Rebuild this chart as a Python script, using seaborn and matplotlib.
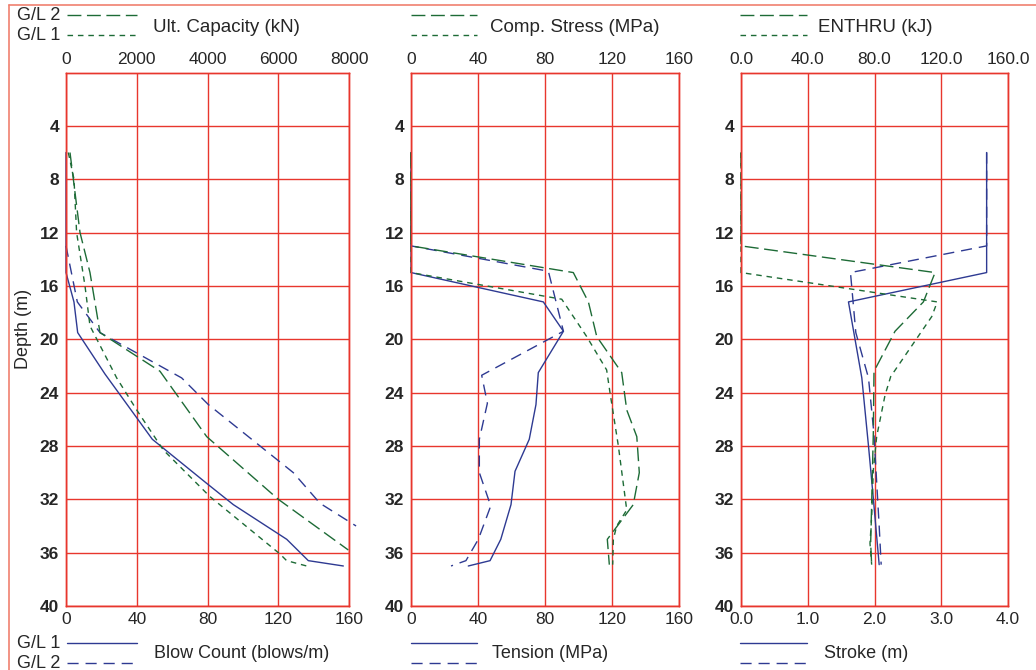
import numpy as np
import pandas as pd
import matplotlib.pyplot as plt
import seaborn as sns
from matplotlib.lines import Line2D

sns.set_style('white')
plt.rcParams['font.family'] = ['Liberation Sans', 'DejaVu Sans']
plt.rcParams['font.size'] = 12.5

# ---------------- data (depth in m) ----------------
# panel 1: blow count (bottom axis) and ult. capacity (top axis)
blow1_depth = [6, 15, 17.2, 19.5, 22.6, 27.5, 30.8, 32.4, 35.0, 36.6, 37.0]
blow1_val = [0, 0, 4.5, 6.6, 22, 48.8, 79.5, 94.6, 124.8, 137, 156.8]
blow2_depth = [13, 17.2, 19.5, 22.9, 24.9, 30.0, 32.3, 34.0]
blow2_val = [0, 6.4, 19.2, 65.4, 80.5, 128.5, 143.6, 164]
cap2_depth = [6, 12, 15, 19.5, 22.4, 27.3, 32.0, 35.8]
cap2_val = [113, 396, 678, 961, 2657, 3977, 6001, 7980]
cap1_depth = [6, 8, 12, 16, 19, 22.9, 25.3, 28.3, 31.8, 36.1, 36.6, 37.0]
cap1_val = [65, 226, 300, 537, 678, 1433, 1998, 2750, 4070, 6049, 6237, 6803]

# panel 2: tension (bottom axis) and comp. stress (top axis)
ten1_depth = [6, 15, 17.2, 19.4, 22.5, 24.9, 27.5, 29.9, 32.4, 35.0, 36.6, 37.0]
ten1_val = [0, 0, 79.0, 91.0, 76.0, 74.6, 70.6, 62.1, 59.7, 53.6, 47.2, 34.2]
ten2_depth = [6, 13, 14.9, 19.4, 22.7, 24.8, 27.5, 30.0, 32.5, 35.0, 36.6, 37.0]
ten2_val = [0, 0, 82.0, 91.0, 42.2, 45.6, 40.8, 40.8, 47.6, 40.2, 32.8, 23.9]
comp2_depth = [6, 13, 15.0, 17.2, 19.8, 22.5, 25.3, 27.3, 30.0, 32.4, 34.4, 35.0, 36.9]
comp2_val = [0, 0, 96.9, 105.9, 110.9, 125.8, 128.8, 134.8, 136.3, 132.7, 120.8, 117.2, 118.4]
comp1_depth = [6, 15, 17.0, 19.8, 22.3, 24.0, 28.0, 32.8, 34.0, 35.0, 36.9]
comp1_val = [0, 0, 90.0, 104.9, 116.8, 118.8, 123.8, 128.8, 122.8, 120.8, 120.4]

# panel 3: stroke (bottom axis) and ENTHRU (top axis)
str1_depth = [6, 15, 17.2, 22.9, 28.0, 31.8, 36.9]
str1_val = [3.68, 3.68, 1.61, 1.81, 1.91, 1.98, 2.07]
str2_depth = [6, 13, 15.0, 19.5, 22.9, 27.0, 30.5, 34.0, 36.9]
str2_val = [3.68, 3.68, 1.64, 1.72, 1.91, 1.99, 2.03, 2.07, 2.10]
ent2_depth = [6, 13, 15.0, 17.2, 19.4, 22.4, 27.0, 32.3, 35.3, 36.9]
ent2_val = [0, 0, 116.3, 109.3, 92.3, 79.7, 79.3, 78.3, 77.7, 78.3]
ent1_depth = [6, 15, 17.2, 18.3, 22.8, 24.2, 27.3, 29.8, 33.3, 35.3, 36.9]
ent1_val = [0, 0, 117.6, 114.3, 89.7, 86.3, 81.3, 79.3, 78.3, 77.3, 78.3]

depth_ticks = [4, 8, 12, 16, 20, 24, 28, 32, 36, 40]

BLUE = '#2e3a92'
GREEN = '#1d6b36'
RED = '#e8362d'
LONG = (0, (10, 4))
SHORT = (0, (4, 3.5))
BDASH = (0, (8, 5))

W, H = 1036, 670
fig = plt.figure(figsize=(W / 100, H / 100), dpi=100)


def fx(px):
    return px / W


def fy(py):
    return 1 - py / H


panels = [
    dict(left=66, right=349, bot=(0, 160), top=(0, 8000),
         bticks=[0, 40, 80, 120, 160], tticks=[0, 2000, 4000, 6000, 8000],
         blab=None, tlab=None,
         bottom=[(blow1_val, blow1_depth, '-'), (blow2_val, blow2_depth, BDASH)],
         topl=[(cap2_val, cap2_depth, LONG), (cap1_val, cap1_depth, SHORT)]),
    dict(left=411, right=679, bot=(0, 160), top=(0, 160),
         bticks=[0, 40, 80, 120, 160], tticks=[0, 40, 80, 120, 160],
         blab=None, tlab=None,
         bottom=[(ten1_val, ten1_depth, '-'), (ten2_val, ten2_depth, BDASH)],
         topl=[(comp2_val, comp2_depth, LONG), (comp1_val, comp1_depth, SHORT)]),
    dict(left=741, right=1008, bot=(0, 4), top=(0, 160),
         bticks=[0, 1, 2, 3, 4], tticks=[0, 40, 80, 120, 160],
         blab='%.1f', tlab='%.1f',
         bottom=[(str1_val, str1_depth, '-'), (str2_val, str2_depth, BDASH)],
         topl=[(ent2_val, ent2_depth, LONG), (ent1_val, ent1_depth, SHORT)]),
]

y_top, y_bot = 72.5, 606
for i, p in enumerate(panels):
    ax = fig.add_axes([fx(p['left']), fy(y_bot), (p['right'] - p['left']) / W,
                       (y_bot - y_top) / H])
    ax.set_xlim(*p['bot'])
    ax.set_ylim(40, 0)
    ax.set_yticks(depth_ticks)
    ax.set_yticklabels([str(d) for d in depth_ticks], fontweight='bold')
    ax.set_xticks(p['bticks'])
    if p['blab']:
        ax.set_xticklabels([p['blab'] % t for t in p['bticks']])
    ax.tick_params(axis='x', length=0, pad=4)
    ax.tick_params(axis='y', length=0, pad=5)
    ax.grid(True, color=RED, linewidth=1.0)
    for s in ax.spines.values():
        s.set_color(RED)
        s.set_linewidth(1.0)
    for xv, dv, ls in p['bottom']:
        df = pd.DataFrame({'x': xv, 'depth': dv})
        sns.lineplot(data=df, x='x', y='depth', sort=False, estimator=None,
                     color=BLUE, linestyle=ls, linewidth=1.0, ax=ax, clip_on=False)
    ax.set_xlabel('')
    ax.set_ylabel('Depth (m)' if i == 0 else '', fontsize=13)
    if i == 0:
        ax.yaxis.set_label_coords(-0.12, 0.52)
    ax.set_ylim(40, 0)

    tx = ax.twiny()
    tx.set_xlim(*p['top'])
    tx.set_xticks(p['tticks'])
    if p['tlab']:
        tx.set_xticklabels([p['tlab'] % t for t in p['tticks']])
    tx.tick_params(length=0, pad=4)
    for s in tx.spines.values():
        s.set_color(RED)
        s.set_linewidth(1.0)
    for xv, dv, ls in p['topl']:
        df = pd.DataFrame({'x': xv, 'depth': dv})
        sns.lineplot(data=df, x='x', y='depth', sort=False, estimator=None,
                     color=GREEN, linestyle=ls, linewidth=1.0, ax=tx, clip_on=False)
    tx.set_xlabel('')
    tx.set_ylabel('')
    tx.set_ylim(40, 0)

# ---------------- legend keys ----------------
top_keys = [(67, 137, 153, 'Ult. Capacity (kN)'), (411, 477, 490, 'Comp. Stress (MPa)'),
            (740, 807, 818, 'ENTHRU (kJ)')]
bot_keys = [(67, 137, 154, 'Blow Count (blows/m)'), (411, 477, 492, 'Tension (MPa)'),
            (740, 807, 824, 'Stroke (m)')]
for x0, x1, xt, label in top_keys:
    fig.add_artist(Line2D([fx(x0), fx(x1)], [fy(15), fy(15)], color=GREEN, lw=1.0, linestyle=LONG))
    fig.add_artist(Line2D([fx(x0), fx(x1)], [fy(35), fy(35)], color=GREEN, lw=1.0, linestyle=SHORT))
    fig.text(fx(xt), fy(27), label, va='center', ha='left', fontsize=13.5)
for x0, x1, xt, label in bot_keys:
    fig.add_artist(Line2D([fx(x0), fx(x1)], [fy(643), fy(643)], color=BLUE, lw=1.0))
    fig.add_artist(Line2D([fx(x0), fx(x1)], [fy(663), fy(663)], color=BLUE, lw=1.0, linestyle=BDASH))
    fig.text(fx(xt), fy(653), label, va='center', ha='left', fontsize=13)
fig.text(fx(17), fy(16), 'G/L 2', va='center', ha='left', fontsize=13)
fig.text(fx(17), fy(36), 'G/L 1', va='center', ha='left', fontsize=13)
fig.text(fx(17), fy(643), 'G/L 1', va='center', ha='left', fontsize=13)
fig.text(fx(17), fy(663), 'G/L 2', va='center', ha='left', fontsize=13)

# outer frame
fig.add_artist(Line2D([fx(9), fx(9)], [fy(5), 0], color='#f08070', lw=1.2))
fig.add_artist(Line2D([fx(9), 1], [fy(5), fy(5)], color='#f08070', lw=1.2))

fig.savefig('out.png', dpi=100)
